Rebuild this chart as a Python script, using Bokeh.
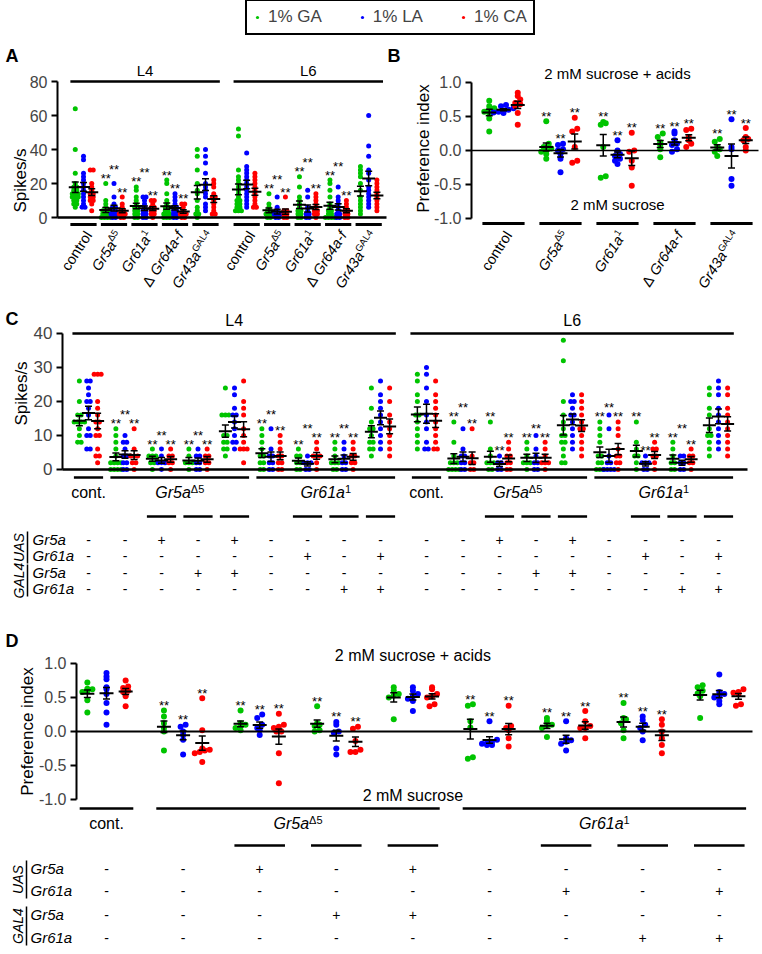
import numpy as np
from bokeh.plotting import figure
from bokeh.models import (ColumnDataSource, LinearAxis, FixedTicker, Range1d, Whisker,
                          TeeHead, Legend, LegendItem, PrintfTickFormatter)
from bokeh.layouts import column, row
from bokeh.core.properties import value
from bokeh.embed import file_html
from bokeh.resources import INLINE

FONT = "Liberation Sans"
SERIES = ["1% GA", "1% LA", "1% CA"]
COLORS = ["#00c400", "#0000ff", "#ff0000"]

# ---------------- Panel A data (spikes/s) ----------------
A_SIDES = ["L4", "L6"]
A_CATEGORIES = ["control", "Gr5a", "Gr61a", "Δ Gr64a-f", "Gr43a"]
A_CATEGORY_SUP = ["", "Δ5", "1", "", "GAL4"]
A_SIG = [False, True, True, True, False]
A_TICKS = [0, 20, 40, 60, 80]
A_L4_GA = [[64, 40, 26, 20, 18, 18, 16, 16, 14, 14, 12, 12, 10, 10, 8, 8, 6, 12, 14],
           [20, 10, 8, 6, 4, 4, 2, 2, 0, 0, 2, 4, 0, 0],
           [18, 16, 12, 10, 8, 6, 6, 4, 4, 2, 2, 0, 0],
           [22, 20, 14, 10, 8, 6, 6, 4, 4, 2, 2, 2, 0, 0, 0],
           [40, 36, 28, 20, 16, 14, 10, 2, 2, 0, 4, 6]]
A_L4_LA = [[36, 34, 26, 24, 22, 20, 18, 16, 14, 12, 10, 8, 6, 6],
           [20, 12, 8, 6, 6, 4, 4, 2, 2, 0, 0, 2],
           [12, 12, 10, 8, 6, 4, 4, 2, 2, 0, 0],
           [14, 12, 10, 8, 6, 6, 4, 4, 2, 2, 0, 0],
           [40, 36, 32, 26, 20, 18, 16, 14, 12, 8, 6, 4]]
A_L4_CA = [[28, 28, 20, 18, 16, 14, 14, 12, 12, 10, 10, 8, 4],
           [12, 8, 6, 4, 4, 2, 2, 2, 0, 0],
           [10, 10, 8, 6, 6, 4, 4, 2, 2, 0],
           [8, 8, 6, 4, 2, 2, 2, 0, 0],
           [22, 20, 18, 14, 12, 12, 10, 8, 6, 4, 2, 2]]
A_L6_GA = [[52, 48, 28, 24, 22, 20, 18, 16, 14, 12, 10, 8, 6, 4, 4, 6, 8, 10, 4],
           [14, 8, 6, 4, 2, 2, 0, 0, 2, 4],
           [24, 18, 12, 10, 8, 6, 4, 4, 2, 2, 0, 0],
           [22, 20, 16, 12, 8, 6, 4, 4, 2, 2, 0, 0, 0, 0],
           [30, 28, 26, 24, 20, 16, 12, 10, 8, 6, 4, 2]]
A_L6_LA = [[38, 30, 28, 26, 24, 22, 20, 18, 16, 14, 12, 10, 8, 6],
           [12, 6, 4, 2, 2, 0, 0, 2],
           [16, 12, 6, 4, 2, 2, 0, 0],
           [18, 12, 10, 8, 6, 4, 2, 2, 0, 0],
           [60, 42, 36, 28, 26, 22, 18, 16, 14, 12, 10, 8, 6]]
A_L6_CA = [[26, 24, 22, 20, 18, 16, 14, 12, 10, 8, 6, 6],
           [12, 4, 4, 2, 2, 0, 0],
           [14, 12, 10, 8, 6, 4, 4, 2, 2, 0],
           [10, 8, 6, 4, 4, 2, 2, 0, 0],
           [22, 20, 18, 16, 14, 12, 10, 8, 6, 4]]

# ---------------- Panel B data (preference index) ----------------
B_SIG = [False, True, True, True, True]
PI_TICKS = [-1.0, -0.5, 0.0, 0.5, 1.0]
B_GA = [[0.73, 0.65, 0.62, 0.60, 0.57, 0.55, 0.47, 0.28],
        [0.43, 0.10, 0.05, 0.03, 0.0, -0.02, -0.05, -0.12],
        [0.42, 0.40, 0.38, 0.05, -0.38, -0.40],
        [0.25, 0.20, 0.12, 0.08, 0.02, -0.10],
        [0.17, 0.13, 0.05, 0.02, -0.02, -0.08]]
B_LA = [[0.67, 0.65, 0.62, 0.60, 0.58, 0.57, 0.56, 0.55],
        [0.10, 0.08, 0.02, 0.0, -0.05, -0.12, -0.32],
        [0.15, 0.0, -0.05, -0.08, -0.12, -0.15, -0.20],
        [0.28, 0.25, 0.15, 0.10, 0.08, 0.02, -0.02],
        [0.46, 0.05, 0.02, -0.42, -0.52]]
B_CA = [[0.85, 0.80, 0.75, 0.70, 0.68, 0.65, 0.55, 0.38],
        [0.48, 0.32, 0.28, 0.05, -0.15, -0.18],
        [0.26, 0.0, -0.02, -0.15, -0.25, -0.52],
        [0.32, 0.30, 0.20, 0.15, 0.10, 0.05],
        [0.33, 0.20, 0.17, 0.15, 0.05, 0.0]]

# ---------------- Panel C data (spikes/s) ----------------
C_TICKS = [0, 10, 20, 30, 40]
GROUPS = [("cont.", "", [0]), ("Gr5a", "Δ5", [1, 2, 3, 4]), ("Gr61a", "1", [5, 6, 7, 8])]
CD_SIG = [False, True, True, True, False, True, True, True, False]
C_L4_GA = [[26, 20, 16, 14, 14, 14, 12, 10, 8, 8, 14, 16],
           [12, 10, 8, 6, 4, 2, 2, 2, 2, 0, 0, 0, 0],
           [6, 4, 4, 4, 2, 2, 0],
           [6, 4, 2, 2, 2, 0],
           [24, 16, 16, 16, 10, 10, 8, 6, 4, 6, 8],
           [12, 10, 8, 6, 4, 4, 2, 2, 0, 0],
           [6, 4, 4, 2, 2, 0, 0],
           [8, 6, 4, 2, 2, 2, 0, 0],
           [24, 18, 14, 12, 12, 10, 8, 8, 6, 6, 4]]
C_L4_LA = [[26, 26, 24, 22, 20, 20, 18, 16, 12, 10, 10, 6, 6],
           [10, 8, 8, 6, 4, 4, 2, 2, 0, 0],
           [6, 4, 2, 2, 2, 0],
           [6, 4, 4, 2, 2, 0, 0],
           [24, 22, 18, 16, 16, 14, 12, 10, 8, 8, 6],
           [12, 6, 4, 4, 2, 2, 0, 0],
           [4, 2, 2, 2, 0, 0],
           [8, 6, 4, 2, 2, 0, 0],
           [26, 22, 20, 18, 16, 14, 12, 10, 8, 6]]
C_L4_CA = [[28, 28, 28, 20, 18, 16, 14, 14, 12, 10, 10, 6, 4, 4, 2],
           [12, 6, 4, 4, 4, 2, 2, 0],
           [6, 4, 4, 2, 2, 0],
           [6, 4, 4, 2, 2, 0],
           [26, 20, 18, 16, 12, 10, 8, 6, 6, 6, 2],
           [10, 8, 6, 4, 4, 2, 2, 0, 0],
           [8, 6, 4, 4, 4, 2, 0],
           [8, 6, 4, 4, 2, 2, 0],
           [24, 20, 16, 14, 12, 10, 8, 6, 4]]
C_L6_GA = [[28, 26, 22, 20, 16, 16, 14, 12, 10, 8, 6],
           [14, 8, 4, 2, 2, 2, 0, 0, 0, 0],
           [14, 6, 4, 2, 2, 2, 0, 0],
           [8, 6, 4, 2, 2, 2, 0],
           [38, 32, 20, 16, 14, 12, 10, 10, 8, 8, 6, 4, 2, 2],
           [14, 12, 10, 8, 4, 4, 2, 2, 0, 0, 0],
           [14, 8, 6, 4, 4, 2, 0],
           [8, 6, 4, 2, 2, 0, 0],
           [24, 22, 18, 16, 12, 10, 10, 8, 6, 4]]
C_L6_LA = [[30, 28, 24, 20, 16, 14, 12, 8, 6, 6],
           [12, 6, 4, 4, 2, 2, 0, 0],
           [4, 2, 2, 0, 0],
           [10, 6, 4, 2, 2, 0, 0],
           [22, 20, 20, 18, 16, 16, 14, 12, 10, 8, 6],
           [16, 12, 4, 2, 2, 0, 0, 0, 0],
           [4, 2, 2, 2, 0, 0],
           [4, 4, 2, 2, 0, 0],
           [26, 24, 22, 18, 16, 14, 12, 10, 8, 6]]
C_L6_CA = [[26, 22, 20, 18, 16, 14, 12, 10, 8, 6, 6],
           [12, 4, 2, 2, 0, 0],
           [8, 6, 4, 4, 2, 2, 0, 0],
           [8, 6, 4, 2, 2, 2, 0],
           [22, 20, 18, 16, 14, 12, 12, 10, 8, 6, 4],
           [14, 12, 10, 6, 4, 4, 2, 2, 0],
           [8, 6, 6, 4, 4, 2, 0],
           [6, 4, 4, 2, 2, 0],
           [24, 22, 18, 16, 14, 12, 10, 8, 6, 4]]

# ---------------- Panel D data (preference index) ----------------
D_GA = [[0.72, 0.63, 0.62, 0.60, 0.58, 0.46, 0.28],
        [0.31, 0.22, 0.12, 0.05, 0.0, -0.28],
        [0.31, 0.12, 0.10, 0.08, 0.05, 0.02],
        [0.37, 0.12, 0.10, 0.08, 0.02, 0.0],
        [0.65, 0.60, 0.55, 0.53, 0.50, 0.18],
        [0.40, 0.38, 0.15, 0.06, -0.38, -0.40],
        [0.20, 0.15, 0.10, 0.08, 0.05, -0.08],
        [0.42, 0.20, 0.18, 0.12, 0.02, -0.10],
        [0.68, 0.65, 0.60, 0.56, 0.52, 0.20]]
D_LA = [[0.86, 0.81, 0.77, 0.65, 0.62, 0.55, 0.42, 0.28, 0.10],
        [0.10, 0.07, 0.0, -0.05, -0.12, -0.34],
        [0.25, 0.20, 0.10, 0.05, 0.02, -0.05],
        [0.14, 0.10, 0.0, -0.02, -0.25, -0.34],
        [0.65, 0.60, 0.55, 0.52, 0.48, 0.45, 0.30],
        [0.15, -0.12, -0.15, -0.17, -0.18, -0.20, -0.20],
        [0.15, -0.10, -0.13, -0.15, -0.18, -0.28],
        [0.22, 0.17, 0.10, 0.05, 0.0, -0.13],
        [0.84, 0.58, 0.55, 0.52, 0.50, 0.45, 0.40]]
D_CA = [[0.75, 0.66, 0.64, 0.60, 0.58, 0.52, 0.37],
        [0.49, 0.02, -0.25, -0.27, -0.28, -0.30, -0.32, -0.45],
        [0.26, 0.10, 0.07, 0.05, 0.0, 0.0, -0.32, -0.76],
        [0.07, 0.04, -0.14, -0.27, -0.30, -0.30],
        [0.65, 0.62, 0.55, 0.52, 0.50, 0.40, 0.37],
        [0.38, 0.08, 0.05, 0.02, -0.10, -0.22],
        [0.30, 0.15, 0.08, 0.05, 0.05, -0.10],
        [0.18, 0.10, 0.0, -0.10, -0.20, -0.32],
        [0.62, 0.58, 0.57, 0.55, 0.40, 0.38]]

# ---------------- genotype table ----------------
TABLE_GROUP = ["UAS", "UAS", "GAL4", "GAL4"]
TABLE_GENE = ["Gr5a", "Gr61a", "Gr5a", "Gr61a"]
UAS_GR5A = ["-", "-", "+", "-", "+", "-", "-", "-", "-"]
UAS_GR61A = ["-", "-", "-", "-", "-", "-", "+", "-", "+"]
GAL4_GR5A = ["-", "-", "-", "+", "+", "-", "-", "-", "-"]
GAL4_GR61A = ["-", "-", "-", "-", "-", "-", "-", "+", "+"]
TABLE_SIGNS = [UAS_GR5A, UAS_GR61A, GAL4_GR5A, GAL4_GR61A]

# ---------------- helpers ----------------
GW = {'G': .778, 'r': .333, '5': .556, 'a': .556, '6': .556, '1': .556, '4': .556, '3': .556,
      '-': .333, 'f': .278, 'Δ': .668, ' ': .278, 'c': .5, 'o': .556, 'n': .556, 't': .278,
      'l': .222, 'A': .667, 'L': .556, '.': .278}


def text_width(s, size):
    return sum(GW.get(ch, .556) for ch in s) * size


class Panel:
    def __init__(self, width, height, g0_px, sx, top_val, sy):
        self.sx, self.sy = sx, sy
        self.x0 = -g0_px / sx
        self.y0 = top_val
        self.p = figure(width=width, height=height, title=None,
                        x_range=Range1d(self.x0, self.x0 + width / sx),
                        y_range=Range1d(top_val - height / sy, top_val),
                        x_axis_type=None, y_axis_type=None, output_backend="svg",
                        toolbar_location=None, min_border=0, outline_line_color=None)

    def X(self, px):
        return self.x0 + px / self.sx

    def Y(self, py):
        return self.y0 - py / self.sy

    def txt(self, xs, ys, texts, size, style="normal", align="center", baseline="middle", angle=0.0):
        self.p.text(x=list(xs), y=list(ys), text=list(texts), text_font=value(FONT),
                    text_font_size=f"{size}px", text_font_style=style, text_align=align,
                    text_baseline=baseline, angle=angle, text_color="black")

    def seg(self, x0, y0, x1, y1, width):
        self.p.segment(x0=list(x0), y0=list(y0), x1=list(x1), y1=list(y1), line_width=width,
                       line_color="black")


def y_axis(P, axis_px, ticks, size, fmt=None):
    ax = LinearAxis(fixed_location=P.X(axis_px), bounds=(min(ticks), max(ticks)),
                    ticker=FixedTicker(ticks=ticks), axis_line_width=2, major_tick_line_width=2,
                    major_tick_out=6, major_tick_in=0, minor_tick_line_color=None,
                    major_label_text_font=FONT, major_label_text_font_size=f"{size}px",
                    major_label_standoff=4)
    if fmt:
        ax.formatter = PrintfTickFormatter(format=fmt)
    P.p.add_layout(ax, "left")


def x_line(P, axis_px, end, width):
    ax = LinearAxis(fixed_location=0, bounds=(P.X(axis_px), end), ticker=FixedTicker(ticks=[]),
                    axis_line_width=width, major_tick_line_color=None, minor_tick_line_color=None,
                    major_label_text_font_size="0px")
    P.p.add_layout(ax, "below")


def label_parts(name, sup, size, sup_size):
    parts = []
    if name.startswith("Δ "):
        parts.append(("Δ ", size, "normal", 0))
        name = name[2:]
    style = "normal" if name in ("control", "cont.") else "italic"
    parts.append((name, size, style, 0))
    if sup:
        parts.append((sup, sup_size, "normal", 4))
    return parts


def draw_parts(P, items, angle_deg, align):
    th = np.radians(angle_deg)
    ux, uy = np.cos(th), -np.sin(th)
    vx, vy = -np.sin(th), -np.cos(th)
    batches = {}
    for x, y, parts in items:
        widths = [text_width(t, sz) for (t, sz, st, r) in parts]
        shift = sum(widths) / 2 if align == "center" else 0.0
        acc = 0.0
        for (t, sz, st, r), w in zip(reversed(parts), reversed(widths)):
            d = shift - acc
            b = batches.setdefault((sz, st), dict(x=[], y=[], text=[], xo=[], yo=[]))
            b["x"].append(x); b["y"].append(y); b["text"].append(t)
            b["xo"].append(d * ux + r * vx); b["yo"].append(d * uy + r * vy)
            acc += w
    for (sz, st), b in batches.items():
        P.p.text(x="x", y="y", text="text", x_offset="xo", y_offset="yo",
                 source=ColumnDataSource(b), angle=th, text_align="right",
                 text_baseline="middle", text_font=value(FONT), text_font_size=f"{sz}px",
                 text_font_style=st, text_color="black")


def draw_series(P, centers, data3, offset, sig, dot, spread_px, bin_px, hw_px, cap_px):
    means = dict(x0=[], x1=[], y=[])
    wsk = dict(base=[], lower=[], upper=[])
    for s in range(3):
        xs, ys = [], []
        for g, c in enumerate(centers):
            vals = data3[s][g]
            cx = c + (s - 1) * offset
            bins = {}
            for v in sorted(vals):
                bins.setdefault(int(round(v * P.sy / bin_px)), []).append(v)
            for vs in bins.values():
                n = len(vs)
                for k, v in enumerate(vs):
                    xs.append(cx + (k - (n - 1) / 2) * spread_px / P.sx)
                    ys.append(v)
            arr = np.array(vals, float)
            m = arr.mean()
            se = arr.std(ddof=1) / np.sqrt(len(arr))
            means["x0"].append(cx - hw_px / P.sx); means["x1"].append(cx + hw_px / P.sx)
            means["y"].append(m)
            wsk["base"].append(cx); wsk["lower"].append(m - se); wsk["upper"].append(m + se)
        P.p.scatter(xs, ys, size=dot, fill_color=COLORS[s], line_color=None)
    P.seg(means["x0"], means["y"], means["x1"], means["y"], 2)
    w = Whisker(source=ColumnDataSource(wsk), base="base", lower="lower", upper="upper",
                line_width=1.5, line_color="black", level="overlay",
                upper_head=TeeHead(size=cap_px, line_width=1.5, line_color="black"),
                lower_head=TeeHead(size=cap_px, line_width=1.5, line_color="black"))
    P.p.add_layout(w)
    # significance marks (** over each series, staggered when they would collide)
    pad, star_w, star_h = 5, 12, 9
    sxs, sys_ = [], []
    for g, c in enumerate(centers):
        if not sig[g]:
            continue
        hp = [max(data3[s][g]) * P.sy + pad for s in range(3)]
        xp = [(s - 1) * offset * P.sx for s in range(3)]
        clash = any(abs(xp[1] - xp[j]) < star_w and abs(hp[1] - hp[j]) < star_h for j in (0, 2))
        if clash:
            hp[1] = max(hp[0], hp[2]) + star_h
        for s in range(3):
            sxs.append(c + (s - 1) * offset)
            sys_.append(hp[s] / P.sy)
    if sxs:
        P.txt(sxs, sys_, ["**"] * len(sxs), 13, baseline="alphabetic")


def draw_table(P, col_sets, row_py, gene_px, bar_px, grp_px, sub_py, sub_hw):
    xs, ys, ts = [], [], []
    sb0, sb1 = [], []
    for cols in col_sets:
        for r, signs in enumerate(TABLE_SIGNS):
            for c, sgn in zip(cols, signs):
                xs.append(c); ys.append(P.Y(row_py[r])); ts.append(sgn)
        for k, c in enumerate(cols):
            if any(TABLE_SIGNS[r][k] == "+" for r in range(len(TABLE_SIGNS))):
                sb0.append(c - sub_hw); sb1.append(c + sub_hw)
    P.txt(xs, ys, ts, 14)
    P.seg(sb0, [P.Y(sub_py)] * len(sb0), sb1, [P.Y(sub_py)] * len(sb0), 2.5)
    P.txt([P.X(gene_px)] * len(TABLE_GENE), [P.Y(py) for py in row_py], TABLE_GENE, 15,
          style="italic", align="left")
    for name in dict.fromkeys(TABLE_GROUP):
        idx = [i for i, gname in enumerate(TABLE_GROUP) if gname == name]
        top, bot = row_py[idx[0]] - 8, row_py[idx[-1]] + 8
        P.seg([P.X(bar_px)], [P.Y(top)], [P.X(bar_px)], [P.Y(bot)], 1.5)
        P.txt([P.X(grp_px)], [P.Y((top + bot) / 2)], [name], 14, style="italic",
              angle=np.pi / 2)


# ---------------- legend ----------------
lp = figure(width=762, height=38, title=None, x_range=Range1d(0, 1), y_range=Range1d(0, 1),
            x_axis_type=None, y_axis_type=None, output_backend="svg", toolbar_location=None,
            min_border=0, outline_line_color=None)
items = []
for name, col in zip(SERIES, COLORS):
    r = lp.scatter(x=[np.nan], y=[np.nan], size=5, fill_color=col, line_color=None)
    items.append(LegendItem(label=name, renderers=[r]))
leg = Legend(items=items, orientation="horizontal", location=(245, 3), border_line_color="black",
             border_line_alpha=1.0, border_line_width=2.5, label_text_font=FONT,
             label_text_font_size="17px", glyph_width=8, glyph_height=16, label_standoff=7,
             spacing=36, padding=6, margin=0)
lp.add_layout(leg, "center")

# ---------------- Panel A ----------------
PA = Panel(387, 256, g0_px=83, sx=30.5, top_val=105.3, sy=1.7)
A_POS = [[i for i in range(5)], [5.35 + i for i in range(5)]]
y_axis(PA, 57, A_TICKS, 16)
x_line(PA, 57, PA.X(386), 2.5)
for side, pos, data3 in zip(A_SIDES, A_POS, [(A_L4_GA, A_L4_LA, A_L4_CA), (A_L6_GA, A_L6_LA, A_L6_CA)]):
    draw_series(PA, pos, data3, 0.27, A_SIG, 5, 3, 1, 6.5, 7)
    x0, x1 = pos[0] - 0.43, pos[-1] + 0.47
    PA.seg([x0], [max(A_TICKS)], [x1], [max(A_TICKS)], 2.5)
    PA.txt([(x0 + x1) / 2], [PA.Y(32)], [side], 15)
    PA.seg([c - 0.43 for c in pos], [PA.Y(186)] * 5, [c + 0.43 for c in pos], [PA.Y(186)] * 5, 3)
    draw_parts(PA, [(c + 5 / PA.sx, PA.Y(194), label_parts(n, sp, 14.5, 9.5))
                    for c, n, sp in zip(pos, A_CATEGORIES, A_CATEGORY_SUP)], 57, "right")
PA.txt([PA.X(5)], [PA.Y(17)], ["A"], 18, style="bold", align="left")
PA.txt([PA.X(20)], [PA.Y(142)], ["Spikes/s"], 17, angle=np.pi / 2)

# ---------------- Panel B ----------------
PB = Panel(375, 256, g0_px=116, sx=57, top_val=1.647, sy=68)
B_POS = [i for i in range(5)]
y_axis(PB, 84, PI_TICKS, 16, "%.1f")
x_line(PB, 84, B_POS[-1] + 0.47, 1.5)
draw_series(PB, B_POS, (B_GA, B_LA, B_CA), 0.25, B_SIG, 6, 5, 5, 7, 7)
PB.seg([c - 0.37 for c in B_POS], [PB.Y(185)] * 5, [c + 0.37 for c in B_POS], [PB.Y(185)] * 5, 3)
draw_parts(PB, [(c + 5 / PB.sx, PB.Y(194), label_parts(n, sp, 14.5, 9.5))
                for c, n, sp in zip(B_POS, A_CATEGORIES, A_CATEGORY_SUP)], 57, "right")
PB.txt([np.mean(B_POS)], [PB.Y(35)], ["2 mM sucrose + acids"], 15)
PB.txt([np.mean(B_POS)], [PB.Y(166)], ["2 mM sucrose"], 15)
PB.txt([PB.X(0)], [PB.Y(17)], ["B"], 18, style="bold", align="left")
PB.txt([PB.X(36)], [PB.Y(110)], ["Preference index"], 17, angle=np.pi / 2)

# ---------------- Panel C ----------------
PC = Panel(762, 308, g0_px=88, sx=36.5, top_val=51.47, sy=3.4)
C_POS = [[i for i in range(9)], [9.26 + i for i in range(9)]]
y_axis(PC, 62, C_TICKS, 17)
x_line(PC, 62, PC.X(747), 2.5)
for side, pos, data3 in zip(A_SIDES, C_POS, [(C_L4_GA, C_L4_LA, C_L4_CA), (C_L6_GA, C_L6_LA, C_L6_CA)]):
    draw_series(PC, pos, data3, 0.25, CD_SIG, 5, 3.5, 1, 6.5, 7)
    x0, x1 = pos[0] - 0.44, pos[-1] + 0.42
    PC.seg([x0], [max(C_TICKS)], [x1], [max(C_TICKS)], 2.5)
    PC.txt([(x0 + x1) / 2], [PC.Y(26)], [side], 16)
    gx0 = [pos[idx[0]] - 0.4 for _, _, idx in GROUPS]
    gx1 = [pos[idx[-1]] + 0.4 for _, _, idx in GROUPS]
    PC.seg(gx0, [PC.Y(183)] * 3, gx1, [PC.Y(183)] * 3, 2.5)
    draw_parts(PC, [(np.mean([pos[i] for i in idx]), PC.Y(198), label_parts(n, sp, 16, 11))
                    for n, sp, idx in GROUPS], 0, "center")
draw_table(PC, C_POS, [245, 261, 278, 294], 32, 27, 18, 222, 0.4)
PC.txt([PC.X(5)], [PC.Y(24)], ["C"], 18, style="bold", align="left")
PC.txt([PC.X(21)], [PC.Y(99)], ["Spikes/s"], 17, angle=np.pi / 2)

# ---------------- Panel D ----------------
PD = Panel(762, 350, g0_px=106, sx=76.6, top_val=1.897, sy=68)
D_POS = [i for i in range(9)]
y_axis(PD, 76, PI_TICKS, 16, "%.1f")
x_line(PD, 76, D_POS[-1] + 0.43, 2)
draw_series(PD, D_POS, (D_GA, D_LA, D_CA), 0.25, CD_SIG, 6, 5, 5, 7, 7)
gx0 = [D_POS[idx[0]] - 0.35 for _, _, idx in GROUPS]
gx1 = [D_POS[idx[-1]] + 0.35 for _, _, idx in GROUPS]
PD.seg(gx0, [PD.Y(206)] * 3, gx1, [PD.Y(206)] * 3, 2.5)
draw_parts(PD, [(np.mean([D_POS[i] for i in idx]), PD.Y(221), label_parts(n, sp, 16, 11))
                for n, sp, idx in GROUPS], 0, "center")
draw_table(PD, [D_POS], [266, 288, 312, 335], 30, 26, 17, 243, 0.33)
PD.txt([np.mean(D_POS)], [PD.Y(53)], ["2 mM sucrose + acids"], 16)
PD.txt([np.mean(D_POS)], [PD.Y(193)], ["2 mM sucrose"], 16)
PD.txt([PD.X(5)], [PD.Y(38)], ["D"], 18, style="bold", align="left")
PD.txt([PD.X(27)], [PD.Y(129)], ["Preference index"], 17, angle=np.pi / 2)

layout = column(lp, row(PA.p, PB.p, spacing=0), PC.p, PD.p, spacing=0)
open("out.html", "w").write(file_html(layout, INLINE))
